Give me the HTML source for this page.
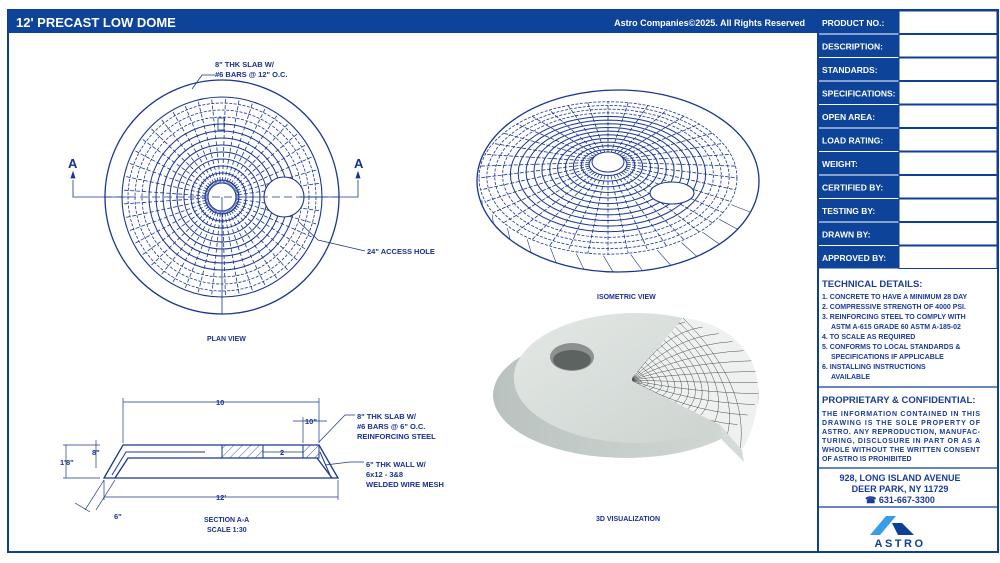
<!DOCTYPE html>
<html><head><meta charset="utf-8"><style>
body{margin:0;width:1000px;height:563px;background:#fff;overflow:hidden;font-family:"Liberation Sans",Arial,sans-serif}
svg{position:absolute;left:0;top:0}
.t{font-family:"Liberation Sans",sans-serif;font-weight:bold;fill:#1a2f8f}
</style></head><body>
<svg width="1000" height="563" viewBox="0 0 1000 563" xmlns="http://www.w3.org/2000/svg">
<defs>
<pattern id="hat" width="6" height="6" patternUnits="userSpaceOnUse" patternTransform="rotate(45)"><line x1="0" y1="0" x2="0" y2="6" stroke="#1a3590" stroke-width="0.8"/></pattern>
<linearGradient id="conc" x1="0" y1="0" x2="1" y2="1"><stop offset="0" stop-color="#e3e8e5"/><stop offset="1" stop-color="#cdd4d0"/></linearGradient>
<linearGradient id="side" x1="0" y1="0" x2="1" y2="0"><stop offset="0" stop-color="#b9c2be"/><stop offset="0.6" stop-color="#cad2ce"/><stop offset="1" stop-color="#d3dad6"/></linearGradient>
<clipPath id="wc"><path d="M630,380 L683,318 C725,322 758,350 758,390 C758,420 748,440 742,450 L720,425 Z"/></clipPath>
</defs>
<rect x="8" y="10" width="990" height="542" fill="none" stroke="#0d3f96" stroke-width="2"/>
<rect x="8" y="10" width="810" height="23" fill="#0d4398"/>
<text x="16" y="27" font-size="13" font-weight="bold" fill="#fff" font-family="Liberation Sans">12' PRECAST LOW DOME</text>
<text x="805" y="26" font-size="9" font-weight="bold" fill="#fff" text-anchor="end" font-family="Liberation Sans">Astro Companies©2025. All Rights Reserved</text>
<line x1="818" y1="10" x2="818" y2="552" stroke="#0d3f96" stroke-width="2"/>
<g id="rows"></g>

<g font-family="Liberation Sans" font-weight="bold" fill="#1a3a9a">
<text x="822" y="287" font-size="9.5">TECHNICAL DETAILS:</text>
<g font-size="7">
<text x="822" y="299">1.  CONCRETE TO HAVE A MINIMUM 28 DAY</text>
<text x="822" y="309">2.  COMPRESSIVE STRENGTH OF 4000 PSI.</text>
<text x="822" y="319">3.  REINFORCING STEEL TO COMPLY WITH</text>
<text x="831" y="329">ASTM A-615 GRADE 60 ASTM A-185-02</text>
<text x="822" y="339">4.  TO SCALE AS REQUIRED</text>
<text x="822" y="349">5.  CONFORMS TO LOCAL STANDARDS &amp;</text>
<text x="831" y="359">SPECIFICATIONS IF APPLICABLE</text>
<text x="822" y="369">6.  INSTALLING INSTRUCTIONS</text>
<text x="831" y="379">AVAILABLE</text>
</g>
<text x="822" y="403" font-size="9.5">PROPRIETARY &amp; CONFIDENTIAL:</text>
<g font-size="7">
<text x="822" y="416" textLength="158">THE INFORMATION CONTAINED IN THIS</text>
<text x="822" y="425" textLength="158">DRAWING IS THE SOLE PROPERTY OF</text>
<text x="822" y="434" textLength="158">ASTRO. ANY REPRODUCTION, MANUFAC-</text>
<text x="822" y="443" textLength="158">TURING, DISCLOSURE IN PART OR AS A</text>
<text x="822" y="452" textLength="158">WHOLE WITHOUT THE WRITTEN CONSENT</text>
<text x="822" y="461">OF ASTRO IS  PROHIBITED</text>
</g>
<g font-size="9" text-anchor="middle">
<text x="900" y="481">928, LONG ISLAND AVENUE</text>
<text x="900" y="492">DEER PARK, NY 11729</text>
<text x="900" y="503">☎ 631-667-3300</text>
</g>
</g>
<line x1="818" y1="387" x2="998" y2="387" stroke="#0d3f96" stroke-width="1.2"/>
<line x1="818" y1="468" x2="998" y2="468" stroke="#0d3f96" stroke-width="1.2"/>
<line x1="818" y1="507" x2="998" y2="507" stroke="#0d3f96" stroke-width="1.2"/>
<polygon points="886,516 896,516 880,535 870,535" fill="#3a9be8"/>
<polygon points="892,523 902,523 914,535 898,535" fill="#0d3f96"/>
<text x="900" y="547" font-size="11" font-weight="bold" fill="#0d3f96" text-anchor="middle" letter-spacing="2.5" font-family="Liberation Sans">ASTRO</text>

<g id="plan" stroke="#1a3590" fill="none"></g>
<g class="t" font-size="7.5">
<text x="215" y="67">8" THK SLAB W/</text>
<text x="215" y="77">#6 BARS @ 12" O.C.</text>
<text x="367" y="254">24" ACCESS HOLE</text>
<text x="207" y="341" font-size="7">PLAN VIEW</text>
<text x="68" y="168" font-size="13">A</text>
<text x="354" y="168" font-size="13">A</text>
<text x="597" y="299" font-size="7">ISOMETRIC VIEW</text>
<text x="596" y="521" font-size="7">3D VISUALIZATION</text>
<text x="204" y="522" font-size="7">SECTION A-A</text>
<text x="207" y="532" font-size="7">SCALE 1:30</text>
<text x="216" y="405">10</text>
<text x="305" y="424">10"</text>
<text x="280" y="455">2</text>
<text x="92" y="455">8"</text>
<text x="60" y="465">1'8"</text>
<text x="216" y="500">12'</text>
<text x="114" y="519">6"</text>
<text x="357" y="419">8" THK SLAB W/</text>
<text x="357" y="429">#6 BARS @ 6" O.C.</text>
<text x="357" y="439">REINFORCING STEEL</text>
<text x="366" y="467">6" THK WALL W/</text>
<text x="366" y="477">6x12 - 3&amp;8</text>
<text x="366" y="487">WELDED WIRE MESH</text>
</g>
<g stroke="#1a3590" fill="none" stroke-width="0.8">
<polyline points="192,89 202,75 215,75"/>
<polyline points="299,222 318,240 365,251"/>
<polyline points="73,180 73,197 130,197"/><polygon points="71,178 75,178 73,172" fill="#1a3590"/>
<polyline points="358,180 358,197 300,197"/><polygon points="356,178 360,178 358,172" fill="#1a3590"/>
</g>

<g stroke="#1a3590" fill="none" stroke-width="1.3">
<polygon points="123,445 319,445 338,478 104,478"/>
<polyline points="115,478 128,458 317,458 332,478"/>
<polyline points="112,475 126,452 205,452" stroke-width="1"/>
<polyline points="320,452 330,475" stroke-width="1"/>
<rect x="222" y="445" width="41" height="13" fill="url(#hat)" stroke-width="1"/>
<rect x="303" y="445" width="16" height="13" fill="url(#hat)" stroke-width="1"/>
<g stroke-width="0.7">
<line x1="123" y1="402" x2="319" y2="402"/><line x1="123" y1="398" x2="123" y2="443"/><line x1="319" y1="398" x2="319" y2="443"/>
<line x1="104" y1="497" x2="338" y2="497"/><line x1="104" y1="480" x2="104" y2="500"/><line x1="338" y1="480" x2="338" y2="500"/>
<line x1="293" y1="421" x2="327" y2="421"/><line x1="303" y1="417" x2="303" y2="443"/>
<line x1="263" y1="452" x2="303" y2="452"/>
<line x1="63" y1="445" x2="100" y2="445"/><line x1="63" y1="478" x2="100" y2="478"/><line x1="66" y1="445" x2="66" y2="478"/>
<line x1="96" y1="440" x2="96" y2="468"/>
<line x1="104" y1="480" x2="85" y2="510"/><line x1="115" y1="480" x2="96" y2="510"/><line x1="75" y1="503" x2="90" y2="512"/>
<polyline points="319,442 345,415 355,415"/>
<polyline points="325,465 350,462 364,462"/>
</g></g>

<g id="iso" stroke="#1a3590" fill="none"></g>

<ellipse cx="626" cy="395" rx="133" ry="63" fill="url(#side)"/>
<path d="M630,380 L683,318 C725,322 758,350 758,390 C758,420 748,440 742,450 L720,425 Z" fill="#eef1f0"/>
<g id="mesh" stroke="#4a4f4e" stroke-width="0.5" fill="none" clip-path="url(#wc)"></g>
<polygon points="720,425 742,450 744,462 722,440" fill="#d5dbd8"/>
<path d="M630,380 L720,425 A122,65 0 1 1 683,318 Z" fill="url(#conc)"/>
<ellipse cx="572" cy="357" rx="22" ry="14" fill="#8a918f"/>
<ellipse cx="572" cy="360" rx="19" ry="10" fill="#5d6361"/>
</svg>
<script>
const NS="http://www.w3.org/2000/svg";
function el(p,t,a){const e=document.createElementNS(NS,t);for(const k in a)e.setAttribute(k,a[k]);p.appendChild(e);return e;}
const rows=document.getElementById('rows');
const labels=["PRODUCT NO.:","DESCRIPTION:","STANDARDS:","SPECIFICATIONS:","OPEN AREA:","LOAD RATING:","WEIGHT:","CERTIFIED BY:","TESTING BY:","DRAWN BY:","APPROVED BY:"];
labels.forEach((l,i)=>{const y=11+i*23.5;
el(rows,'rect',{x:818,y:y,width:81,height:22.5,fill:'#0d4398'});
el(rows,'rect',{x:899,y:y,width:98,height:22.5,fill:'#fff',stroke:'#0d3f96','stroke-width':1});
const t=el(rows,'text',{x:822,y:y+15,'font-size':8.5,'font-weight':'bold',fill:'#fff','font-family':'Liberation Sans'});t.textContent=l;});
const pl=document.getElementById('plan');const cx=222,cy=197;
el(pl,'circle',{cx,cy,r:117,'stroke-width':1.3});
el(pl,'circle',{cx,cy,r:100,'stroke-width':1.1});
for(let r=17;r<=97;r+=7){el(pl,'circle',{cx,cy,r,'stroke-width':r>78?0.8:1,'stroke-dasharray':r>78?'3 1.5':'none'});}
for(let a=0;a<360;a+=8){const c=Math.cos(a*Math.PI/180),s=Math.sin(a*Math.PI/180);
el(pl,'line',{x1:cx+16*c,y1:cy+16*s,x2:cx+100*c,y2:cy+100*s,'stroke-width':0.8,'stroke-dasharray':'4 2'});}
for(let a=0;a<360;a+=5){const c=Math.cos(a*Math.PI/180),s=Math.sin(a*Math.PI/180);el(pl,'line',{x1:cx+8*c,y1:cy+8*s,x2:cx+17*c,y2:cy+17*s,'stroke-width':0.6});}
el(pl,'circle',{cx,cy,r:14,fill:'#fff','stroke-width':1});
el(pl,'circle',{cx:284,cy:197,r:20,fill:'#fff','stroke-width':1.1});
el(pl,'line',{x1:104,y1:197,x2:340,y2:197,'stroke-width':0.8,'stroke-dasharray':'8 4'});
el(pl,'line',{x1:cx,y1:197,x2:cx,y2:314,'stroke-width':0.8});
el(pl,'rect',{x:218,y:118,width:6,height:12,'stroke-width':0.8});
const iso=document.getElementById('iso');
el(iso,'ellipse',{cx:618,cy:181,rx:141,ry:91,'stroke-width':1.3});
function P(r,a){return [608+r*1.05*Math.cos(a),162+0.13*r+r*0.62*Math.sin(a)];}
for(let r=18;r<=125;r+=7.5){let d='';for(let a=0;a<=360;a+=6){const p=P(r,a*Math.PI/180);d+=(a?'L':'M')+p[0].toFixed(1)+','+p[1].toFixed(1);}
el(iso,'path',{d,'stroke-width':r>100?0.8:1,'stroke-dasharray':r>100?'3 1.5':'none'});}
for(let a=0;a<360;a+=9){let d='';for(let r=18;r<=125;r+=5){const p=P(r,a*Math.PI/180);d+=(r==18?'M':'L')+p[0].toFixed(1)+','+p[1].toFixed(1);}
el(iso,'path',{d,'stroke-width':0.8,'stroke-dasharray':'4 1.5'});}
for(let a=20;a<180;a+=12){const p=P(125,a*Math.PI/180);const q=[618+141*Math.cos(a*Math.PI/180),181+91*Math.sin(a*Math.PI/180)];el(iso,'line',{x1:p[0],y1:p[1],x2:q[0],y2:q[1],'stroke-width':0.6});}
el(iso,'ellipse',{cx:608,cy:162,rx:16,ry:10,fill:'#fff','stroke-width':1});
el(iso,'ellipse',{cx:672,cy:193,rx:22,ry:11,fill:'#fff','stroke-width':1.1});
const m=document.getElementById('mesh');
for(let i=1;i<=14;i++){const t=i/14;el(m,'path',{d:`M${630+53*t},${380-62*t} Q${640+110*t},${385} ${630+90*t+ (t>0.8?20*(t-0.8)/0.2:0)},${380+45*t+ (t>0.8?25*(t-0.8)/0.2:0)}`});}
for(let j=0;j<=14;j++){const u=j/14;const ang=-1.35+2.3*u;const ex=640+120*Math.cos(ang),ey=385+68*Math.sin(ang);el(m,'path',{d:`M632,380 Q${632+(ex-632)*0.45},${380+(ey-380)*0.9} ${ex},${ey}`});}
</script>
</body></html>
